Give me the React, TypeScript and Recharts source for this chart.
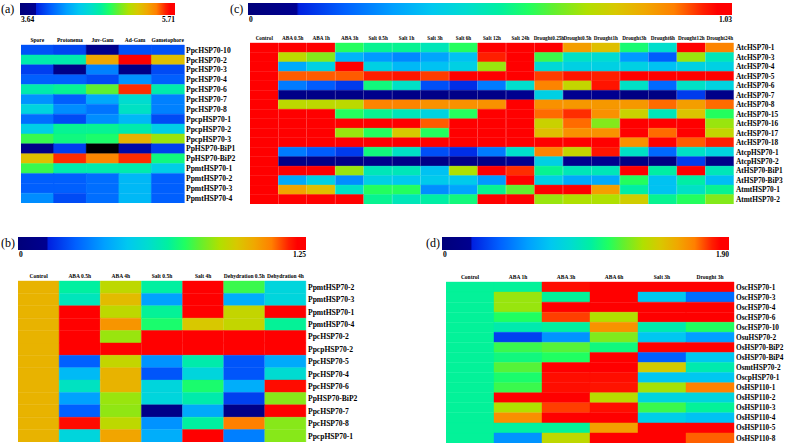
import { BarChart, Bar, XAxis, YAxis, Cell } from 'recharts';

const FONT = '"Liberation Serif", "Times New Roman", serif';

// jet-like colour scale used by all four panels
const stops: [number, string][] = [
  [0, '#00007a'],
  [0.1, '#000090'],
  [0.105, '#0020e0'],
  [0.2, '#0060ff'],
  [0.3, '#00a0ff'],
  [0.38, '#00c8f0'],
  [0.45, '#00dcd0'],
  [0.52, '#00f0a0'],
  [0.58, '#20ff60'],
  [0.63, '#60f030'],
  [0.7, '#b0e000'],
  [0.76, '#d8c800'],
  [0.82, '#f0a800'],
  [0.88, '#ff8000'],
  [0.94, '#ff2000'],
  [0.97, '#ff0000'],
  [1, '#ff0000'],
];

const rgb = (h: string) => [1, 3, 5].map((i) => parseInt(h.slice(i, i + 2), 16));

function jet(t: number) {
  const x = Math.max(0, Math.min(1, t));
  for (let i = 1; i < stops.length; i++) {
    const [t1, c1] = stops[i];
    if (x <= t1) {
      const [t0, c0] = stops[i - 1];
      const k = t1 === t0 ? 0 : (x - t0) / (t1 - t0);
      const a = rgb(c0);
      const b = rgb(c1);
      const c = a.map((v, j) => Math.round(v + (b[j] - v) * k));
      return `rgb(${c[0]},${c[1]},${c[2]})`;
    }
  }
  return '#ff0000';
}

const colorOf = (v: number | null, min: number, max: number) =>
  v == null ? '#000000' : jet((v - min) / (max - min));

// (a) tissue expression
const aCols = ['Spore', 'Protonema', 'Juv-Gam', 'Ad-Gam', 'Gametophore'];
const aRows = [
  'PpcHSP70-10', 'PpcHSP70-2', 'PpcHSP70-3', 'PpcHSP70-4', 'PpcHSP70-6', 'PpcHSP70-7',
  'PpcHSP70-8', 'PpcpHSP70-1', 'PpcpHSP70-2', 'PpcpHSP70-3', 'PpHSP70-BiP1', 'PpHSP70-BiP2',
  'PpmtHSP70-1', 'PpmtHSP70-2', 'PpmtHSP70-3', 'PpmtHSP70-4',
];
const aValues: (number | null)[][] = [
  [4.01, 3.97, 3.81, 4.01, 4.01],
  [4.68, 4.68, 5.34, 5.71, 5.25],
  [3.95, 3.76, 4.16, 3.76, 3.99],
  [4.05, 4.05, 3.99, 4.22, 4.05],
  [4.68, 4.74, 4.94, 5.57, 4.68],
  [4.22, 4.05, 4.3, 4.57, 4.16],
  [4.51, 4.2, 4.12, 4.61, 4.16],
  [4.1, 3.99, 4.2, 4.36, 3.99],
  [4.47, 4.74, 4.74, 4.68, 4.47],
  [4.88, 4.78, 4.82, 5.3, 5.05],
  [3.76, 3.95, null, 3.85, 3.95],
  [5.25, 5.57, 5.44, 5.57, 4.78],
  [4.88, 4.68, 4.68, 4.68, 4.47],
  [4.05, 4.05, 4.1, 4.36, 4.05],
  [4.05, 4.05, 4.1, 4.36, 4.05],
  [4.2, 3.99, 4.1, 4.36, 4.05],
];

// (b) moss stress treatments
const bCols = ['Control', 'ABA 0.5h', 'ABA 4h', 'Salt 0.5h', 'Salt 4h', 'Dehydration 0.5h', 'Dehydration 4h'];
const bRows = [
  'PpmtHSP70-2', 'PpmtHSP70-3', 'PpmtHSP70-1', 'PpmtHSP70-4', 'PpcHSP70-2', 'PpcpHSP70-2',
  'PpcHSP70-5', 'PpcHSP70-4', 'PpcHSP70-6', 'PpHSP70-BiP2', 'PpcHSP70-7', 'PpcHSP70-8', 'PpcpHSP70-1',
];
const bValues: number[][] = [
  [1.0, 0.65, 0.9, 0.65, 1.25, 0.75, 0.53],
  [1.0, 0.6, 0.98, 0.38, 1.25, 0.41, 0.53],
  [1.0, 1.25, 0.9, 0.66, 1.25, 0.91, 1.25],
  [1.0, 1.25, 1.06, 0.71, 0.95, 0.91, 0.66],
  [1.0, 1.25, 0.85, 1.25, 1.25, 1.25, 1.25],
  [1.0, 1.25, 1.25, 1.25, 1.25, 1.25, 1.25],
  [1.0, 0.25, 0.91, 0.35, 0.63, 0.23, 0.4],
  [1.0, 0.44, 1.0, 0.23, 0.53, 0.23, 0.56],
  [1.0, 0.59, 1.0, 0.53, 0.71, 0.41, 1.2],
  [1.0, 0.38, 0.85, 0.53, 0.63, 0.19, 0.83],
  [1.0, 0.25, 0.84, 0.08, 0.4, 0.08, 1.23],
  [1.0, 1.2, 0.9, 0.35, 0.65, 1.1, 0.83],
  [1.0, 0.53, 1.03, 0.41, 1.25, 0.31, 0.83],
];

// (c) Arabidopsis treatments
const cCols = [
  'Control', 'ABA 0.5h', 'ABA 1h', 'ABA 3h', 'Salt 0.5h', 'Salt 1h', 'Salt 3h', 'Salt 6h', 'Salt 12h',
  'Salt 24h', 'Drought0.25h', 'Drought0.5h', 'Drought1h', 'Drought3h', 'Drought6h', 'Drought12h', 'Drought24h',
];
const cRows = [
  'AtcHSP70-1', 'AtcHSP70-3', 'AtcHSP70-4', 'AtcHSP70-5', 'AtcHSP70-6', 'AtcHSP70-7', 'AtcHSP70-8',
  'AtcHSP70-15', 'AtcHSP70-16', 'AtcHSP70-17', 'AtcHSP70-18', 'AtcpHSP70-1', 'AtcpHSP70-2',
  'AtHSP70-BiP1', 'AtHSP70-BiP3', 'AtmtHSP70-1', 'AtmtHSP70-2',
];
const cValues: number[][] = [
  [1, 1, 1, 0.6, 0.55, 0.55, 0.5, 0.6, 1, 1, 1, 0.86, 0.8, 0.58, 0.47, 1, 0.9],
  [1, 0.74, 0.68, 0.35, 0.3, 0.27, 0.32, 0.38, 0.97, 1, 0.62, 0.48, 0.46, 0.3, 0.2, 0.7, 0.5],
  [1, 0.33, 0.42, 1, 0.42, 0.36, 0.38, 0.42, 0.7, 1, 0.45, 0.42, 0.42, 0.42, 0.38, 0.42, 0.42],
  [1, 0.93, 0.93, 0.93, 0.97, 0.98, 0.95, 1, 1, 1, 0.95, 0.98, 0.97, 1, 1, 1, 1],
  [1, 0.25, 0.2, 0.15, 0.57, 0.48, 0.18, 0.13, 0.25, 0.47, 0.9, 0.75, 0.98, 0.48, 0.22, 0.48, 0.43],
  [1, 0.06, 0.06, 0.06, 0.08, 0.06, 0.06, 0.06, 0.06, 0.1, 0.42, 0.1, 0.1, 0.04, 0.04, 0.15, 0.07],
  [1, 0.74, 0.74, 0.74, 0.9, 0.9, 0.88, 0.88, 0.88, 1, 0.88, 0.87, 0.87, 0.87, 0.92, 0.86, 0.92],
  [1, 1, 1, 0.6, 0.55, 0.5, 0.43, 0.6, 1, 1, 0.92, 0.96, 0.88, 0.76, 0.5, 0.79, 0.6],
  [1, 1, 1, 1, 1, 1, 0.93, 1, 1, 1, 0.76, 0.92, 0.68, 1, 1, 1, 0.7],
  [1, 1, 1, 0.7, 0.6, 0.78, 0.6, 1, 1, 1, 0.8, 0.88, 0.88, 1, 0.92, 1, 0.75],
  [1, 1, 1, 1, 1, 1, 1, 1, 1, 1, 1, 1, 1, 0.88, 1, 0.93, 0.97],
  [1, 0.25, 0.2, 0.15, 0.57, 0.48, 0.18, 0.13, 0.25, 0.47, 0.9, 0.75, 0.98, 0.48, 0.22, 0.48, 0.43],
  [1, 0.06, 0.06, 0.06, 0.08, 0.06, 0.06, 0.06, 0.06, 0.1, 0.42, 0.1, 0.1, 0.04, 0.04, 0.15, 0.07],
  [1, 1, 1, 0.7, 0.5, 0.5, 0.38, 0.72, 1, 0.96, 0.55, 0.5, 0.5, 1, 0.53, 1, 0.5],
  [1, 0.33, 0.42, 0.28, 0.42, 0.4, 0.4, 0.4, 0.3, 1, 0.42, 0.33, 0.33, 0.6, 0.38, 0.53, 0.37],
  [1, 0.85, 0.8, 0.48, 0.6, 0.6, 0.28, 0.32, 0.55, 0.65, 1, 1, 0.86, 0.53, 0.38, 0.48, 0.55],
  [1, 1, 1, 1, 0.55, 0.5, 0.53, 0.57, 1, 1, 0.7, 0.72, 0.72, 0.77, 0.55, 0.6, 0.68],
];

// (d) rice treatments
const dCols = ['Control', 'ABA 1h', 'ABA 3h', 'ABA 6h', 'Salt 3h', 'Drought 3h'];
const dRows = [
  'OscHSP70-1', 'OscHSP70-3', 'OscHSP70-4', 'OscHSP70-6', 'OscHSP70-10', 'OsuHSP70-2', 'OsHSP70-BiP2',
  'OsHSP70-BiP4', 'OsmtHSP70-2', 'OscpHSP70-1', 'OsHSP110-1', 'OsHSP110-2', 'OsHSP110-3',
  'OsHSP110-4', 'OsHSP110-5', 'OsHSP110-8',
];
const dValues: number[][] = [
  [1.0, 1.0, 1.82, 1.9, 1.9, 1.9],
  [1.0, 1.29, 1.0, 1.9, 0.72, 0.42],
  [1.0, 1.29, 1.9, 1.9, 1.9, 1.9],
  [1.0, 1.1, 1.75, 1.33, 1.9, 1.9],
  [1.0, 0.95, 0.99, 1.62, 0.95, 1.1],
  [1.0, 0.29, 0.53, 1.25, 0.72, 0.57],
  [1.0, 1.14, 1.18, 1.05, 1.9, 1.9],
  [1.0, 1.05, 1.1, 1.9, 0.38, 0.72],
  [1.0, 1.18, 1.9, 1.9, 1.43, 0.95],
  [1.0, 1.08, 1.82, 1.82, 0.72, 0.72],
  [1.0, 1.14, 1.82, 1.81, 1.31, 1.67],
  [1.0, 1.9, 1.9, 1.35, 0.8, 0.8],
  [1.0, 1.33, 1.75, 1.82, 1.14, 1.0],
  [1.0, 1.63, 1.9, 1.9, 0.76, 0.7],
  [1.0, 0.99, 1.0, 1.58, 1.9, 1.9],
  [1.0, 0.53, 1.37, 1.9, 1.9, 1.71],
];

interface HeatmapProps {
  cols: string[];
  rows: string[];
  values: (number | null)[][];
  min: number;
  max: number;
  left: number;
  top: number;
  plotW: number;
  plotH: number;
  labelW: number;
  colFont?: number;
  rowFont?: number;
}

function Heatmap({ cols, rows, values, min, max, left, top, plotW, plotH, labelW, colFont = 5.5, rowFont = 7.6 }: HeatmapProps) {
  const axisH = 12;
  const data = cols.map((c) => {
    const d: Record<string, string | number> = { name: c };
    rows.forEach((_, ri) => {
      d['r' + ri] = 1;
    });
    return d;
  });
  const ticks = rows.map((_, i) => i + 0.5);

  return (
    <div style={{ position: 'absolute', left, top: top - axisH }}>
      <BarChart
        width={plotW + labelW}
        height={plotH + axisH}
        data={data}
        margin={{ top: 0, right: 0, bottom: 0, left: 0 }}
        barCategoryGap={0}
        barGap={0}
      >
        <XAxis
          dataKey="name"
          orientation="top"
          height={axisH}
          interval={0}
          tickLine={false}
          axisLine={false}
          tickSize={0}
          tickMargin={3}
          tick={{ fontSize: colFont, fontWeight: 'bold', fill: '#000', fontFamily: FONT }}
        />
        <YAxis
          type="number"
          orientation="right"
          domain={[0, rows.length]}
          reversed
          ticks={ticks}
          interval={0}
          width={labelW}
          tickFormatter={(v: number) => rows[Math.floor(v)]}
          tickLine={false}
          axisLine={false}
          tickSize={0}
          tickMargin={2}
          tick={{ fontSize: rowFont, fontWeight: 'bold', fill: '#000', fontFamily: FONT }}
        />
        {rows.map((r, ri) => (
          <Bar key={r + ri} dataKey={'r' + ri} stackId="s" isAnimationActive={false}>
            {cols.map((c, ci) => {
              const fill = colorOf(values[ri][ci], min, max);
              return <Cell key={c} fill={fill} stroke={fill} strokeWidth={0.4} />;
            })}
          </Bar>
        ))}
      </BarChart>
    </div>
  );
}

interface ColorBarProps {
  id: string;
  x: number;
  y: number;
  w: number;
  h: number;
  lo: string;
  hi: string;
  tag: string;
  tagX: number;
}

function ColorBar({ id, x, y, w, h, lo, hi, tag, tagX }: ColorBarProps) {
  return (
    <g>
      <defs>
        <linearGradient id={id} x1="0" x2="1" y1="0" y2="0">
          {stops.map(([t, c], i) => (
            <stop key={i} offset={t} stopColor={c} />
          ))}
        </linearGradient>
      </defs>
      <rect x={x} y={y} width={w} height={h} fill={`url(#${id})`} />
      <text x={x + 1} y={y + h + 7} fontSize={7.5} fontWeight="bold" fontFamily={FONT}>{lo}</text>
      <text x={x + w} y={y + h + 7} fontSize={7.5} fontWeight="bold" fontFamily={FONT} textAnchor="end">{hi}</text>
      <text x={tagX} y={y + 10} fontSize={12} fontFamily={FONT}>{tag}</text>
    </g>
  );
}

export default function App() {
  return (
    <div style={{ position: 'absolute', left: 0, top: 0, width: 787, height: 446, background: '#fff', overflow: 'hidden' }}>
      <svg width={787} height={446} style={{ position: 'absolute', left: 0, top: 0 }}>
        <ColorBar id="cbA" x={20} y={3} w={155} h={12} lo="3.64" hi="5.71" tag="(a)" tagX={1} />
        <ColorBar id="cbC" x={248} y={3} w={484} h={12} lo="0" hi="1.03" tag="(c)" tagX={230} />
        <ColorBar id="cbB" x={18} y={237} w={288} h={13} lo="0" hi="1.25" tag="(b)" tagX={1} />
        <ColorBar id="cbD" x={442} y={237} w={287} h={13} lo="0" hi="1.90" tag="(d)" tagX={426} />
      </svg>
      <Heatmap cols={aCols} rows={aRows} values={aValues} min={3.64} max={5.71} left={21} top={45} plotW={163} plotH={158} labelW={62} />
      <Heatmap cols={cCols} rows={cRows} values={cValues} min={0} max={1.03} left={250} top={43} plotW={484} plotH={161} labelW={53} colFont={5.2} rowFont={7.3} />
      <Heatmap cols={bCols} rows={bRows} values={bValues} min={0} max={1.25} left={18} top={281} plotW={288} plotH={161} labelW={70} />
      <Heatmap cols={dCols} rows={dRows} values={dValues} min={0} max={1.9} left={446} top={282} plotW={288} plotH={161} labelW={53} rowFont={7.3} />
    </div>
  );
}
